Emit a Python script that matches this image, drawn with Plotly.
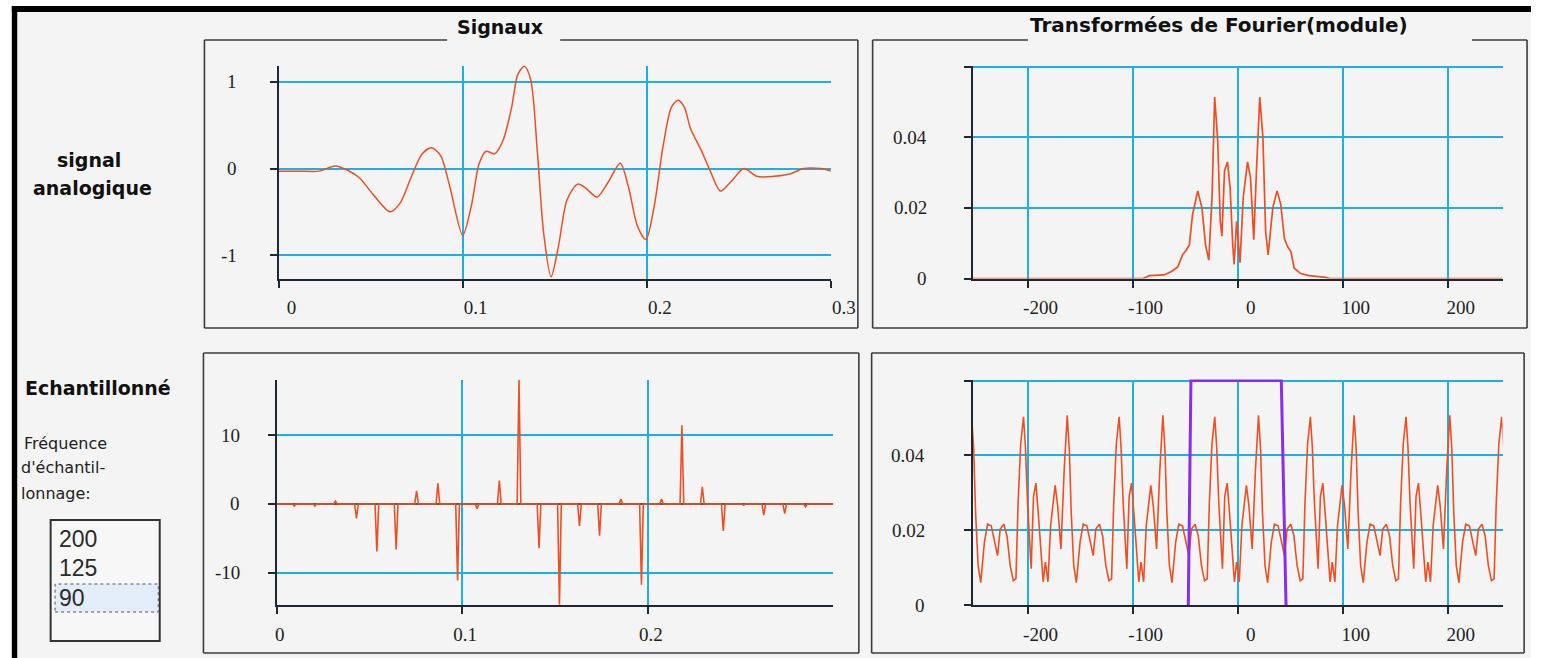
import plotly.graph_objects as go

W, H = 1556, 658

# ---------------- data ----------------
# analog signal (top-left)
analog_t = [0.0, 0.011, 0.022, 0.0306, 0.0375, 0.044, 0.051, 0.0606, 0.066, 0.072,
            0.078, 0.083, 0.088, 0.093, 0.100, 0.1046, 0.109, 0.1127, 0.1174, 0.122,
            0.1266, 0.130, 0.1336, 0.137, 0.1405, 0.144, 0.148, 0.152, 0.1567, 0.1625,
            0.167, 0.173, 0.1787, 0.1856, 0.190, 0.195, 0.1995, 0.204, 0.2088, 0.2134,
            0.217, 0.2204, 0.2238, 0.2296, 0.2343, 0.240, 0.2458, 0.2528, 0.2597, 0.269,
            0.2782, 0.2852, 0.2944, 0.300]
analog_v = [-0.03, -0.03, -0.03, 0.03, -0.02, -0.11, -0.29, -0.50, -0.40, -0.10,
            0.17, 0.24, 0.15, -0.21, -0.77, -0.44, 0.06, 0.20, 0.17, 0.33,
            0.71, 1.09, 1.18, 1.02, 0.21, -0.75, -1.25, -0.90, -0.36, -0.18,
            -0.23, -0.33, -0.17, 0.06, -0.21, -0.67, -0.82, -0.44, 0.25, 0.71,
            0.79, 0.71, 0.46, 0.21, -0.02, -0.26, -0.15, 0.00, -0.09, -0.09,
            -0.06, 0.00, 0.00, -0.03]

# sampled signal (bottom-left), Fe = 90 Hz
sample_t = [0.0095, 0.0206, 0.0317, 0.0430, 0.0540, 0.0644, 0.0754, 0.0869, 0.0975,
            0.1080, 0.1200, 0.1306, 0.1414, 0.1524, 0.1632, 0.1740, 0.1855, 0.1966,
            0.2074, 0.2184, 0.2294, 0.2407, 0.2517, 0.2625, 0.2738, 0.2850]
sample_v = [-0.3, -0.3, 0.4, -2.1, -6.9, -6.6, 1.9, 3.0, -11.1,
            -0.7, 3.4, 18.0, -6.4, -14.6, -3.2, -4.6, 0.7, -11.7,
            0.7, 11.4, 2.5, -3.9, -0.2, -1.6, -1.4, -0.4]

# Fourier transform modulus of analog signal (top-right)
fourier_f = [-252, -90, -84, -70, -63, -57, -52.5, -49, -46, -43, -38, -34, -30.6, -27.5,
             -24.4, -21.9, -19, -16.6, -15, -12.5, -9.7, -7.2, -4.7, -3.4, -1, 2.2,
             5.3, 9.4, 12.2, 15.3, 17.8, 21, 24, 26.6, 29, 33.4, 37.5, 41, 44.4, 47.5,
             50.6, 53.8, 60, 67.8, 83.4, 88, 252]
fourier_v = [0, 0, 0.0008, 0.001, 0.002, 0.0033, 0.0067, 0.008, 0.0095, 0.018, 0.0248,
             0.020, 0.0095, 0.0052, 0.023, 0.0514, 0.039, 0.0162, 0.012, 0.0305, 0.033,
             0.0257, 0.0095, 0.0040, 0.0162, 0.0045, 0.023, 0.033, 0.0286, 0.0110,
             0.030, 0.0514, 0.040, 0.0133, 0.0067, 0.020, 0.0248, 0.021, 0.0114, 0.009,
             0.0076, 0.0029, 0.0014, 0.0008, 0.0003, 0, 0]

# spectrum of sampled signal (bottom-right): one period as read, and its copies
period_f = [-29.0, -27.0, -24.5, -21.8, -20.0, -18.0, -16.0, -14.5, -12.3, -10.0,
            -7.8, -5.3, -3.1, -1.0, 1.5, 4.0, 8.3, 10.7, 13.8, 16.9, 19.8, 21.8,
            23.6, 26.0, 28.5, 32.0, 35.0, 38.5, 41.5, 44.5, 47.0, 50.5, 53.5, 56.5, 59.5]
period_v = [0.0070, 0.0270, 0.0430, 0.0503, 0.0424, 0.0274, 0.0168, 0.0097, 0.0290, 0.0326,
            0.0247, 0.0132, 0.0062, 0.0115, 0.0062, 0.0212, 0.0320, 0.0265, 0.0150, 0.0360,
            0.0507, 0.0415, 0.0247, 0.0106, 0.0060, 0.0168, 0.0216, 0.0212, 0.0176, 0.0132,
            0.0203, 0.0216, 0.0185, 0.0106, 0.0065]
alias_shift = [-273, -182, -91, 0, 91, 182, 273]

# ideal low-pass filter window (purple)
filter_f = [-47.0, -44.5, 41.5, 46.0]
filter_v = [0.0, 0.06, 0.06, 0.0]

# tick labels
t_ticks = [0, 0.1, 0.2, 0.3]
t_text = ["0", "0.1", "0.2", "0.3"]
f_ticks = [-200, -100, 0, 100, 200]
f_text = ["-200", "-100", "0", "100", "200"]
a_ticks = [-1, 0, 1]
a_text = ["-1", "0", "1"]
s_ticks = [-10, 0, 10]
s_text = ["-10", "0", "10"]
m_ticks = [0, 0.02, 0.04, 0.06]
m_text = ["0", "0.02", "0.04", ""]
fe_choices = ["200", "125", "90"]

# ---------------- build derived series ----------------
half = 0.001
samp_x, samp_y = [0.0], [0.0]
for t, v in zip(sample_t, sample_v):
    samp_x += [t - half, t, t + half]
    samp_y += [0.0, v, 0.0]
samp_x.append(0.3)
samp_y.append(0.0)

alias_x, alias_y = [], []
for s in alias_shift:
    for f, v in zip(period_f, period_v):
        alias_x.append(f + s)
        alias_y.append(v)

# ---------------- figure ----------------
def X(p):
    return p / W


def Y(p):
    return 1 - p / H


RED = "#ee4f22"
CYAN = "#1eaee8"
AXC = "#1f2730"
BG = "#f4f4f4"
TICKFONT = dict(family="Liberation Serif", size=19, color="#222222")

fig = go.Figure()
fig.add_trace(go.Scatter(x=analog_t, y=analog_v, mode="lines",
                         line=dict(color=RED, width=1.5, shape="spline", smoothing=0.8),
                         xaxis="x", yaxis="y", hoverinfo="skip"))
fig.add_trace(go.Scatter(x=samp_x, y=samp_y, mode="lines",
                         line=dict(color=RED, width=1.6),
                         xaxis="x2", yaxis="y2", hoverinfo="skip"))
fig.add_trace(go.Scatter(x=fourier_f, y=fourier_v, mode="lines",
                         line=dict(color=RED, width=1.7),
                         xaxis="x3", yaxis="y3", hoverinfo="skip"))
fig.add_trace(go.Scatter(x=alias_x, y=alias_y, mode="lines",
                         line=dict(color=RED, width=1.6),
                         xaxis="x4", yaxis="y4", hoverinfo="skip"))
fig.add_trace(go.Scatter(x=filter_f, y=filter_v, mode="lines",
                         line=dict(color="#8a2cf0", width=3),
                         xaxis="x4", yaxis="y4", hoverinfo="skip"))


def xax(domain, rng, tickvals, ticktext, shift, anchor, layer="above traces"):
    return dict(domain=domain, range=rng, tickvals=tickvals, ticktext=ticktext,
                showgrid=True, gridcolor=CYAN, gridwidth=1.6, zeroline=False,
                showline=True, linecolor=AXC, linewidth=2, ticks="outside",
                ticklen=7, tickwidth=1.5, tickcolor=AXC, tickfont=TICKFONT,
                ticklabelshift=shift, ticklabelstandoff=4, anchor=anchor,
                layer=layer, fixedrange=True)


def yax(domain, rng, tickvals, anchor, zeroline=False):
    return dict(domain=domain, range=rng, tickvals=tickvals, showticklabels=False,
                showgrid=True, gridcolor=CYAN, gridwidth=1.6,
                zeroline=zeroline, zerolinecolor="#555555", zerolinewidth=2,
                showline=True, linecolor=AXC, linewidth=2, ticks="outside",
                ticklen=7, tickwidth=1.5, tickcolor=AXC, anchor=anchor,
                fixedrange=True)


top_dom = [Y(278.5), Y(65.5)]
bot_dom = [Y(605), Y(379.5)]
fig.update_layout(
    width=W, height=H, margin=dict(l=0, r=0, t=0, b=0),
    paper_bgcolor="white", plot_bgcolor="rgba(0,0,0,0)", showlegend=False,
    xaxis=xax([X(281.5), X(843.5)], [0, 0.3], t_ticks, t_text, 13, "y"),
    yaxis=yax(top_dom, [-1.27, 1.19], a_ticks, "x"),
    xaxis2=xax([X(279.5), X(846)], [0, 0.3], t_ticks[:3], t_text[:3], 3, "y2"),
    yaxis2=yax(bot_dom, [-14.65, 18.05], s_ticks, "x2", zeroline=True),
    xaxis3=xax([X(988), X(1527)], [-252, 252], f_ticks, f_text, 13, "y3", "below traces"),
    yaxis3=yax(top_dom, [0, 0.0603], m_ticks, "x3"),
    xaxis4=xax([X(988), X(1527)], [-252, 252], f_ticks, f_text, 13, "y4"),
    yaxis4=yax(bot_dom, [0, 0.0603], m_ticks, "x4"),
)

shapes = []


def rect(x0, y0, x1, y1, fill, line_color=None, width=0, dash=None, layer="below"):
    ln = dict(width=width)
    if line_color:
        ln["color"] = line_color
    if dash:
        ln["dash"] = dash
    shapes.append(dict(type="rect", xref="paper", yref="paper", x0=X(x0), x1=X(x1),
                       y0=Y(y1), y1=Y(y0), fillcolor=fill, line=ln, layer=layer))


def seg(x0, y0, x1, y1, color="#3c3c3c", width=1.6):
    shapes.append(dict(type="line", xref="paper", yref="paper", x0=X(x0), x1=X(x1),
                       y0=Y(y0), y1=Y(y1), line=dict(color=color, width=width),
                       layer="below"))


# window background and black frame
rect(15, 12, W, H, BG)
rect(10, 6, 15.5, H, "black")
rect(10, 6, W, 12, "black")

# group boxes
for (x0, y0, x1, y1, g0, g1) in [(206, 40, 871, 328, 453, 568),
                                  (886, 40, 1552, 328, 1044, 1496)]:
    seg(x0, y0, x0, y1)
    seg(x0, y1, x1, y1)
    seg(x1, y0, x1, y1)
    seg(x0, y0, g0, y0)
    seg(g1, y0, x1, y0)
for (x0, y0, x1, y1) in [(205, 353, 872, 653), (885, 353, 1549, 653)]:
    seg(x0, y0, x0, y1)
    seg(x0, y1, x1, y1)
    seg(x1, y0, x1, y1)
    seg(x0, y0, x1, y0)

# list box
rect(49.5, 520, 160.5, 641, "#f7f7f7", "#333333", 2)
rect(54, 584, 159, 612, "#e3edf9", "#555555", 1, dash="dot")

fig.update_layout(shapes=shapes)

ann = []


def text(x, y, s, size, bold=False, xanchor="center", family="DejaVu Sans", color="#111111"):
    if bold:
        s = "<b>" + s + "</b>"
    ann.append(dict(x=X(x), y=Y(y), xref="paper", yref="paper", text=s, showarrow=False,
                    xanchor=xanchor, yanchor="middle",
                    font=dict(family=family, size=size, color=color)))


def ylabels(yref, vals, labels, right_px):
    for v, s in zip(vals, labels):
        if not s:
            continue
        ann.append(dict(x=X(right_px), y=v, xref="paper", yref=yref, text=s,
                        showarrow=False, xanchor="right", yanchor="middle",
                        font=TICKFONT))


ylabels("y", a_ticks, a_text, 241)
ylabels("y2", s_ticks, s_text, 244)
ylabels("y3", m_ticks, m_text, 943)
ylabels("y4", m_ticks, m_text, 941)

text(507, 27, "Signaux", 19, bold=True)
text(1238, 25, "Transformées de Fourier(module)", 20, bold=True)
text(89, 160, "signal", 19, bold=True)
text(92, 188, "analogique", 19, bold=True)
text(21, 388, "Echantillonné", 19, bold=True, xanchor="left")
text(20, 443, "Fréquence", 16, xanchor="left", color="#222222")
text(17, 467, "d'échantil-", 16, xanchor="left", color="#222222")
text(17, 493, "lonnage:", 16, xanchor="left", color="#222222")
for i, s in enumerate(fe_choices):
    text(56, 538.5 + 29.8 * i, s, 23, xanchor="left", family="Liberation Sans", color="#2a2a2a")

fig.update_layout(annotations=ann)

fig.write_html("out.html", config={"displayModeBar": False},
               post_script="document.body.style.margin='0';document.body.style.overflow='hidden';")
